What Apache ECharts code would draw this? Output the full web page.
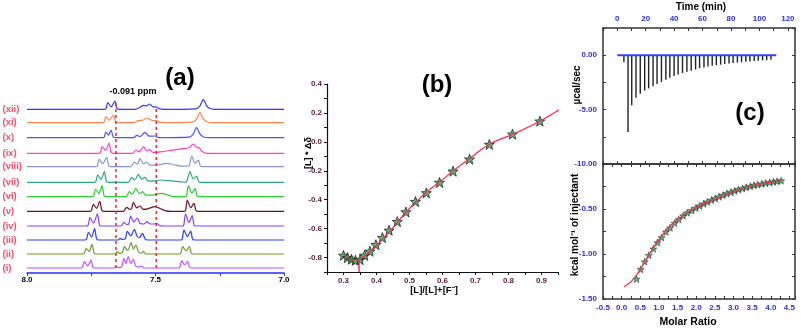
<!DOCTYPE html>
<html>
<head>
<meta charset="utf-8">
<script src="https://cdn.jsdelivr.net/npm/echarts@6/dist/echarts.min.js"></script>
<style>
html, body { margin: 0; padding: 0; background: #fff; }
#chart { width: 803px; height: 328px; }
</style>
</head>
<body>
<div id="chart"></div>
<script>
// ---- (a) stacked 1H NMR traces, [ppm, height] ----
const nmrLabels = ['(i)', '(ii)', '(iii)', '(iv)', '(v)', '(vi)', '(vii)', '(viii)', '(ix)', '(x)', '(xi)', '(xii)'];
const nmrOffsets = [5, 19, 33, 47, 61.7, 76.3, 90.7, 106.3, 119.7, 135.3, 150.3, 163.7];
const nmrColors = ['#c050ff', '#6b9a2a', '#2a3cff', '#8a3cff', '#6a1028', '#2ecc2e',
    '#2aa878', '#8898cc', '#ff3ccc', '#5050ee', '#ff7f50', '#3333ff'];
const nmrTraces = [
    [[8.0, 0], [7.79, 0], [7.784, 1], [7.777, 6.3], [7.764, 2.2], [7.751, 8], [7.744, 1], [7.735, 0],
     [7.66, 0], [7.652, 1.5], [7.642, 0.3], [7.631, 1.5], [7.623, 9.7], [7.615, 4.5], [7.606, 11.3], [7.596, 4.5],
     [7.586, 8.7], [7.577, 2], [7.566, 0.8], [7.554, 2], [7.545, 0],
     [7.41, 0], [7.405, 1], [7.398, 7.3], [7.387, 3], [7.375, 6.7], [7.368, 1], [7.36, 0], [7.0, 0]],
    [[8.0, 0], [7.783, 0], [7.777, 1], [7.770, 5.7], [7.758, 2.5], [7.747, 9.7], [7.739, 1], [7.73, 0],
     [7.656, 0], [7.649, 2.3], [7.640, 0.5], [7.629, 1.5], [7.621, 7.3], [7.608, 3.5], [7.595, 11.3], [7.586, 5],
     [7.576, 9], [7.566, 2], [7.556, 0.8], [7.547, 2.3], [7.538, 0],
     [7.405, 0], [7.401, 1], [7.394, 7.3], [7.381, 3], [7.368, 7.3], [7.361, 1], [7.353, 0], [7.0, 0]],
    [[8.0, 0], [7.774, 0], [7.768, 1], [7.761, 7.7], [7.749, 3], [7.737, 11.3], [7.729, 1], [7.72, 0],
     [7.645, 0], [7.638, 1.7], [7.628, 0.5], [7.617, 1.5], [7.610, 8.7], [7.596, 4], [7.582, 10.7], [7.572, 4],
     [7.562, 2.5], [7.55, 6.7], [7.541, 1], [7.53, 0],
     [7.40, 0], [7.396, 1], [7.389, 10], [7.376, 3.5], [7.363, 9], [7.356, 1], [7.348, 0], [7.0, 0]],
    [[8.0, 0], [7.768, 0], [7.762, 1], [7.755, 8.3], [7.741, 3], [7.726, 12], [7.718, 1], [7.709, 0],
     [7.635, 0], [7.623, 3.7], [7.612, 1.5], [7.604, 2], [7.597, 10], [7.584, 4], [7.571, 8], [7.56, 2.5],
     [7.545, 2], [7.534, 4.3], [7.52, 2], [7.505, 2], [7.495, 2.7], [7.485, 0.5], [7.47, 0],
     [7.395, 0], [7.39, 1], [7.383, 12], [7.37, 3.5], [7.357, 10.3], [7.35, 1], [7.342, 0], [7.0, 0]],
    [[8.0, 0], [7.755, 0], [7.749, 1], [7.742, 7], [7.729, 3], [7.717, 10], [7.709, 1], [7.70, 0],
     [7.625, 0], [7.612, 4], [7.600, 2], [7.593, 2.5], [7.586, 9], [7.573, 3.5], [7.56, 5.3], [7.548, 2],
     [7.53, 2.5], [7.502, 4.7], [7.48, 2.5], [7.46, 0.5], [7.44, 0],
     [7.388, 0], [7.383, 1], [7.376, 11.3], [7.363, 3.5], [7.35, 8], [7.343, 1], [7.335, 0], [7.0, 0]],
    [[8.0, 0], [7.746, 0], [7.74, 1], [7.733, 7.7], [7.72, 3], [7.708, 11], [7.70, 1], [7.69, 0],
     [7.615, 0], [7.602, 5], [7.59, 2.5], [7.577, 8.3], [7.563, 3], [7.55, 5], [7.538, 1.5], [7.52, 1.5],
     [7.476, 3.3], [7.45, 1.5], [7.43, 0],
     [7.384, 0], [7.379, 1], [7.372, 11], [7.359, 3.5], [7.346, 8.3], [7.339, 1], [7.33, 0], [7.0, 0]],
    [[8.0, 0], [7.738, 0], [7.732, 1], [7.725, 7.3], [7.712, 3], [7.699, 10.7], [7.691, 1], [7.682, 0],
     [7.606, 0], [7.593, 4.7], [7.58, 2.5], [7.567, 8], [7.554, 3], [7.541, 5], [7.53, 1.5], [7.51, 1.2],
     [7.482, 2.3], [7.44, 1.5], [7.40, 0.5], [7.385, 0],
     [7.378, 1], [7.366, 10.7], [7.353, 3.5], [7.34, 6.3], [7.333, 1], [7.325, 0], [7.0, 0]],
    [[8.0, 0], [7.732, 0], [7.726, 1], [7.719, 7.3], [7.705, 3], [7.69, 9.3], [7.682, 1], [7.673, 0],
     [7.595, 0], [7.582, 4.7], [7.571, 2.5], [7.56, 8], [7.547, 3], [7.534, 4.7], [7.522, 1.5], [7.50, 1.5],
     [7.457, 3.3], [7.42, 1.5], [7.39, 0.5], [7.375, 0.5],
     [7.368, 1.5], [7.359, 10.7], [7.346, 3.5], [7.333, 6.7], [7.326, 1], [7.318, 0], [7.0, 0]],
    [[8.0, 0], [7.72, 0], [7.714, 1], [7.708, 6.7], [7.694, 3], [7.681, 10], [7.673, 1], [7.664, 0],
     [7.59, 0], [7.576, 3.3], [7.562, 1.5], [7.547, 6.7], [7.535, 2.5], [7.524, 3.7], [7.51, 1], [7.48, 1.5],
     [7.44, 3], [7.40, 4.5], [7.37, 5.5],
     [7.353, 9.3], [7.34, 6], [7.329, 5.3], [7.32, 2], [7.30, 0], [7.0, 0]],
    [[8.0, 0], [7.705, 0], [7.699, 1], [7.693, 5.7], [7.683, 2.5], [7.673, 7.7], [7.665, 1], [7.656, 0],
     [7.585, 0], [7.573, 2.3], [7.56, 1.2], [7.541, 5.3], [7.525, 1.5], [7.502, 1.7], [7.49, 0.3], [7.47, 0],
     [7.37, 0.5], [7.355, 3], [7.34, 10], [7.328, 4], [7.315, 1], [7.29, 0], [7.0, 0]],
    [[8.0, 0], [7.705, 0], [7.699, 1], [7.693, 6], [7.68, 2.5], [7.664, 7.7], [7.655, 1], [7.646, 0],
     [7.585, 0], [7.567, 2], [7.55, 2.5], [7.532, 4.7], [7.515, 2.5], [7.498, 2], [7.485, 0.5], [7.465, 0],
     [7.36, 0.5], [7.342, 3], [7.327, 10.3], [7.315, 4], [7.30, 1], [7.28, 0], [7.0, 0]],
    [[8.0, 0], [7.698, 0], [7.692, 1], [7.686, 6.7], [7.672, 2.5], [7.658, 8.3], [7.65, 1], [7.641, 0],
     [7.58, 0], [7.56, 2], [7.547, 4], [7.535, 3.5], [7.524, 5.3], [7.51, 2.5], [7.495, 2.3], [7.485, 0.5], [7.47, 0],
     [7.345, 0.5], [7.328, 3], [7.314, 10], [7.302, 4], [7.29, 1], [7.27, 0], [7.0, 0]]
];
const shiftLines = [
    [[7.654, 5], [7.654, 171.3]],
    [[7.497, 5], [7.497, 167]]
];

// ---- (b) Job plot ----
const jobX = [0.300, 0.312, 0.324, 0.336, 0.350, 0.364, 0.380, 0.398, 0.418, 0.438,
    0.463, 0.489, 0.518, 0.551, 0.591, 0.632, 0.682, 0.742, 0.812, 0.895];
const jobY = [-0.785, -0.801, -0.812, -0.819, -0.815, -0.785, -0.757, -0.711, -0.662, -0.612,
    -0.552, -0.485, -0.413, -0.353, -0.281, -0.203, -0.120, -0.018, 0.053, 0.143];
const jobFit = [[0.30, -0.78], [0.315, -0.805], [0.33, -0.818], [0.345, -0.815], [0.36, -0.795],
    [0.38, -0.76], [0.40, -0.715], [0.43, -0.645], [0.46, -0.565], [0.49, -0.485], [0.52, -0.415],
    [0.55, -0.35], [0.59, -0.28], [0.63, -0.205], [0.68, -0.12], [0.74, -0.02], [0.81, 0.05],
    [0.88, 0.125], [0.953, 0.22]];
const jobMinLine = [[0.347, -0.815], [0.347, -0.9]];

// ---- (c) ITC raw heats ----
const injTime = [4.7, 7.6, 10.2, 13.2, 16.2, 19.3, 22.1, 25.2, 28.0, 31.1, 34.2, 37.0, 40.0, 42.8,
    45.9, 49.0, 52.0, 55.1, 57.9, 61.0, 63.8, 66.8, 69.7, 72.7, 75.6, 78.6, 81.5, 84.5, 87.4, 90.4,
    93.3, 96.3, 99.2, 102.2, 105.1, 108.1];
const injHeat = [-0.65, -7.05, -4.6, -3.9, -3.55, -3.25, -3.05, -2.85, -2.65, -2.45, -2.25, -2.08,
    -1.92, -1.78, -1.64, -1.52, -1.42, -1.31, -1.2, -1.12, -1.05, -0.98, -0.92, -0.87, -0.82, -0.77,
    -0.72, -0.68, -0.64, -0.6, -0.57, -0.54, -0.51, -0.48, -0.45, -0.42];
const itcBaseline = [[0, 0], [111.8, 0]];

// ---- (c) integrated heats ----
const ratio = [0.40, 0.51, 0.62, 0.73, 0.85, 0.96, 1.07, 1.19, 1.30, 1.42, 1.53, 1.65, 1.76, 1.88,
    1.99, 2.09, 2.20, 2.30, 2.41, 2.51, 2.61, 2.72, 2.82, 2.93, 3.03, 3.13, 3.24, 3.34, 3.45, 3.55,
    3.65, 3.76, 3.86, 3.97, 4.07, 4.17, 4.28];
const enthalpy = [-1.278, -1.170, -1.085, -1.014, -0.943, -0.873, -0.817, -0.754, -0.709, -0.657,
    -0.616, -0.575, -0.542, -0.516, -0.489, -0.466, -0.443, -0.421, -0.401, -0.383, -0.364, -0.346,
    -0.329, -0.313, -0.298, -0.284, -0.272, -0.259, -0.247, -0.236, -0.228, -0.220, -0.212, -0.205,
    -0.198, -0.191, -0.185];
const itcFit = [[0.06, -1.363], [0.2, -1.325], [0.3, -1.285], [0.4, -1.235], [0.5, -1.175],
    [0.6, -1.105], [0.7, -1.035], [0.8, -0.965], [0.9, -0.9], [1.0, -0.84], [1.2, -0.735],
    [1.4, -0.65], [1.6, -0.585], [1.8, -0.53], [2.0, -0.485], [2.25, -0.435], [2.5, -0.39],
    [2.75, -0.345], [3.0, -0.305], [3.25, -0.27], [3.5, -0.242], [3.75, -0.22], [4.0, -0.202],
    [4.28, -0.185]];

const FONT = 'Liberation Sans, Arial, sans-serif';
const BLUE = '#2f2fd8';
const STAR = 'path://M12,1 L15,9 L23,9 L17,14 L19,22 L12,17 L5,22 L7,14 L1,9 L9,9 Z';

function every (step, digits, skipZero) {
    return function (v) {
        const t = Math.round(v * 1000)
        const s = Math.round(step * 1000)
        if (t % s !== 0) return ''
        if (skipZero && t === 0) return ''
        return (t / 1000).toFixed(digits)
    }
}

function frameAxis (extra) {
    return Object.assign({
        type: 'value',
        axisLine: { show: true, onZero: false, lineStyle: { color: '#333', width: 1.5 } },
        axisTick: { show: true, inside: true, length: 3, lineStyle: { color: '#333' } },
        axisLabel: { show: false },
        splitLine: { show: false }
    }, extra)
}

let myChart = echarts.init(document.getElementById('chart'))

let series = []
nmrTraces.forEach(function (trace, i) {
    series.push({
        type: 'line',
        xAxisIndex: 0,
        yAxisIndex: 0,
        data: trace.map(p => [p[0], p[1] + nmrOffsets[i]]),
        symbol: 'none',
        smooth: 0.25,
        lineStyle: { color: nmrColors[i], width: 1.2 },
        silent: true
    })
})
shiftLines.forEach(function (seg) {
    series.push({
        type: 'line', xAxisIndex: 0, yAxisIndex: 0, data: seg, symbol: 'none',
        lineStyle: { color: '#ff1f2f', width: 1.5, type: [3, 3] }
    })
})
series.push({
    type: 'scatter', xAxisIndex: 0, yAxisIndex: 0, symbolSize: 1,
    itemStyle: { color: 'rgba(0,0,0,0)' },
    data: nmrOffsets.map((o, i) => ({ value: [8.0, o], name: nmrLabels[i] })),
    label: {
        show: true, position: 'left', distance: 24, align: 'left', formatter: '{b}',
        color: '#e8204a', fontWeight: 'bold', fontSize: 9.5, fontFamily: FONT
    }
})
// (b)
series.push({
    type: 'line', xAxisIndex: 1, yAxisIndex: 1, data: jobFit, symbol: 'none', smooth: true,
    lineStyle: { color: '#ff2a4a', width: 1.3 }
})
series.push({
    type: 'line', xAxisIndex: 1, yAxisIndex: 1, data: jobMinLine, symbol: 'none',
    lineStyle: { color: '#ff2a4a', width: 1.5 }
})
series.push({
    type: 'scatter', xAxisIndex: 1, yAxisIndex: 1, symbol: STAR, symbolSize: 10,
    data: jobX.map((x, i) => [x, jobY[i]]),
    itemStyle: { color: '#1fb05e', borderColor: '#111', borderWidth: 0.9 }
})
// (c) top
series.push({
    type: 'bar', xAxisIndex: 2, yAxisIndex: 2, barWidth: 1.4,
    data: injTime.map((t, i) => [t, injHeat[i]]),
    itemStyle: { color: '#222' }
})
series.push({
    type: 'line', xAxisIndex: 2, yAxisIndex: 2, data: itcBaseline, symbol: 'none',
    lineStyle: { color: '#3344ff', width: 2 }
})
// (c) bottom
series.push({
    type: 'line', xAxisIndex: 4, yAxisIndex: 4, data: itcFit, symbol: 'none', smooth: true,
    lineStyle: { color: '#ff2a4a', width: 1.2 }
})
series.push({
    type: 'scatter', xAxisIndex: 4, yAxisIndex: 4, symbol: STAR, symbolSize: 7,
    data: ratio.map((r, i) => [r, enthalpy[i]]),
    itemStyle: { color: '#1fb05e', borderColor: '#111', borderWidth: 0.6 }
})

const boldText = function (text, x, y, size, rot) {
    return {
        type: 'text', x: x, y: y, rotation: rot || 0,
        style: { text: text, font: 'bold ' + size + 'px ' + FONT, fill: '#000', align: 'center', verticalAlign: 'middle' }
    }
}

myChart.setOption({
    animation: false,
    grid: [
        { left: 27, width: 257, top: 73, height: 200, outerBoundsMode: 'none' },
        { left: 327, width: 231, top: 84, height: 188, outerBoundsMode: 'none' },
        { left: 603, width: 192, top: 28, height: 136, outerBoundsMode: 'none' },
        { left: 603, width: 192, top: 164, height: 135, outerBoundsMode: 'none' }
    ],
    xAxis: [
        {
            gridIndex: 0, type: 'value', min: 7, max: 8, interval: 0.25, inverse: true,
            axisLine: { onZero: false, lineStyle: { color: '#1f2fff', width: 1.5 } },
            axisTick: { length: 3, lineStyle: { color: '#1f2fff' } },
            axisLabel: { formatter: every(0.5, 1), color: '#000', fontWeight: 'bold', fontSize: 8, fontFamily: FONT, margin: 3, showMinLabel: true, showMaxLabel: true },
            splitLine: { show: false }
        },
        {
            gridIndex: 1, type: 'value', min: 0.25, max: 0.95, interval: 0.05,
            axisLine: { onZero: false, lineStyle: { color: '#111', width: 1.2 } },
            axisTick: { length: 3, lineStyle: { color: '#111' } },
            axisLabel: { formatter: every(0.1, 1), color: '#5c1a33', fontWeight: 'bold', fontSize: 8, fontFamily: FONT, margin: 5 },
            splitLine: { show: false }
        },
        frameAxis({
            gridIndex: 2, position: 'top', min: -10, max: 125, interval: 10,
            axisLabel: { show: true, formatter: every(20, 0), color: BLUE, fontWeight: 'bold', fontSize: 8, fontFamily: FONT, margin: 5 }
        }),
        frameAxis({ gridIndex: 2, position: 'bottom', min: -10, max: 125, interval: 10 }),
        frameAxis({
            gridIndex: 3, position: 'bottom', min: -0.5, max: 4.65, interval: 0.25,
            axisLabel: { show: true, formatter: every(0.5, 1), color: BLUE, fontWeight: 'bold', fontSize: 8, fontFamily: FONT, margin: 5 }
        }),
        frameAxis({ gridIndex: 3, position: 'top', min: -0.5, max: 4.65, interval: 0.25 })
    ],
    yAxis: [
        { gridIndex: 0, type: 'value', min: 0, max: 200, show: false },
        {
            gridIndex: 1, type: 'value', min: -0.9, max: 0.4, interval: 0.1,
            axisLine: { onZero: false, lineStyle: { color: '#111', width: 1.2 } },
            axisTick: { length: 3, lineStyle: { color: '#111' } },
            axisLabel: { formatter: every(0.2, 1), color: '#5c1a33', fontWeight: 'bold', fontSize: 8, fontFamily: FONT, margin: 5 },
            splitLine: { show: false }
        },
        frameAxis({
            gridIndex: 2, position: 'left', min: -10, max: 2.5, interval: 2.5,
            axisLabel: { show: true, formatter: every(5, 2), color: BLUE, fontWeight: 'bold', fontSize: 8, fontFamily: FONT, margin: 6 }
        }),
        frameAxis({ gridIndex: 2, position: 'right', min: -10, max: 2.5, interval: 2.5 }),
        frameAxis({
            gridIndex: 3, position: 'left', min: -1.5, max: 0, interval: 0.25,
            axisLabel: { show: true, formatter: every(0.5, 2, true), color: BLUE, fontWeight: 'bold', fontSize: 8, fontFamily: FONT, margin: 6 }
        }),
        frameAxis({ gridIndex: 3, position: 'right', min: -1.5, max: 0, interval: 0.25 })
    ],
    graphic: [
        boldText('(a)', 180, 78, 24),
        boldText('-0.091 ppm', 133, 92, 9),
        boldText('(b)', 437, 85, 24),
        boldText('(c)', 750, 113, 24),
        boldText('[L] * Δδ', 309, 153, 9, Math.PI / 2),
        boldText('[L]/[L]+[F⁻]', 434, 290, 9.5),
        boldText('Time (min)', 701, 7, 10),
        boldText('µcal/sec', 577, 85, 10, Math.PI / 2),
        boldText('kcal mol⁻¹ of injectant', 575, 225, 10, Math.PI / 2),
        boldText('Molar Ratio', 688, 322, 10.5)
    ],
    series: series
})
</script>
</body>
</html>
